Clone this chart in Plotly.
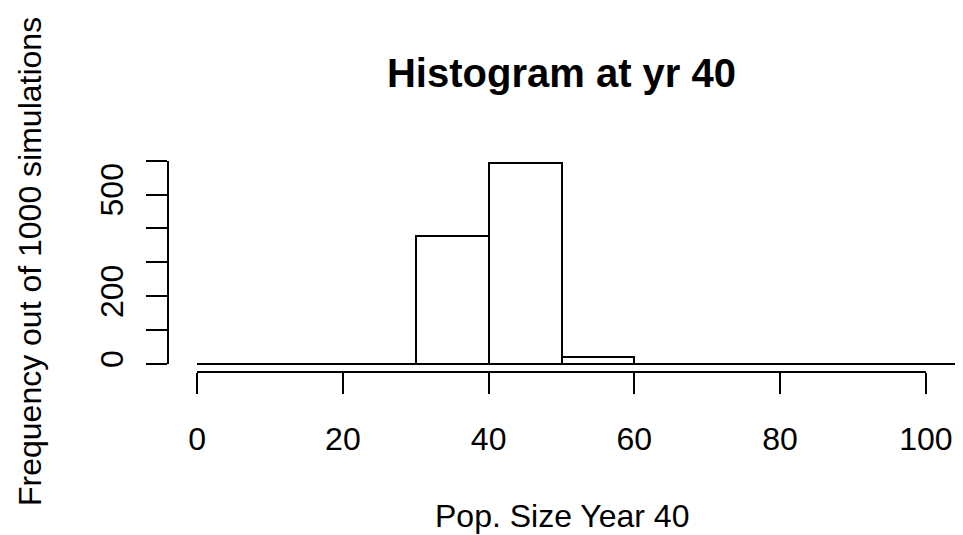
import plotly.graph_objects as go

# Histogram of population size at year 40 (1000 simulations)
bin_edges = [0, 10, 20, 30, 40, 50, 60, 70, 80, 90, 100]
counts = [0, 0, 0, 377, 593, 20, 0, 0, 0, 0]

x_tick_vals = [0, 20, 40, 60, 80, 100]
x_tick_text = ["0", "20", "40", "60", "80", "100"]
y_tick_vals = [0, 100, 200, 300, 400, 500, 600]
y_tick_text = ["0", "", "200", "", "", "500", ""]

title_text = "Histogram at yr 40"
x_title = "Pop. Size Year 40"
y_title = "Frequency out of 1000 simulations"

# Plot region limits: data range padded by 4% on each side
x_lo, x_hi = bin_edges[0], bin_edges[-1]
x_pad = 0.04 * (x_hi - x_lo)
x_range = [x_lo - x_pad, x_hi + x_pad]
y_pad = 0.04 * max(counts)
y_range = [0 - y_pad, max(counts) + y_pad]

centers = [(a + b) / 2 for a, b in zip(bin_edges[:-1], bin_edges[1:])]
widths = [b - a for a, b in zip(bin_edges[:-1], bin_edges[1:])]

W, H = 963, 535
M = dict(l=168, r=8, t=155, b=163)
pw = W - M["l"] - M["r"]
ph = H - M["t"] - M["b"]

FONT = "Liberation Sans, Arial, Helvetica, sans-serif"

fig = go.Figure()
fig.add_trace(go.Bar(
    x=centers, y=counts, width=widths,
    marker=dict(color="white", line=dict(color="black", width=2)),
    hoverinfo="skip", showlegend=False,
))
# invisible helpers so the drawn axes get their own subplots
fig.add_trace(go.Scatter(x=[x_tick_vals[0]], y=[0], xaxis="x2", yaxis="y",
                         mode="markers", marker=dict(opacity=0),
                         hoverinfo="skip", showlegend=False))
fig.add_trace(go.Scatter(x=[0], y=[y_tick_vals[0]], xaxis="x", yaxis="y2",
                         mode="markers", marker=dict(opacity=0),
                         hoverinfo="skip", showlegend=False))

x_dom = [(x_tick_vals[0] - x_range[0]) / (x_range[1] - x_range[0]),
         (x_tick_vals[-1] - x_range[0]) / (x_range[1] - x_range[0])]
y_dom = [(y_tick_vals[0] - y_range[0]) / (y_range[1] - y_range[0]),
         (y_tick_vals[-1] - y_range[0]) / (y_range[1] - y_range[0])]

axis_style = dict(
    showline=True, linecolor="black", linewidth=2,
    ticks="outside", ticklen=21, tickwidth=2, tickcolor="black",
    showgrid=False, zeroline=False, automargin=False,
    tickfont=dict(family=FONT, size=32, color="black"),
)

fig.update_layout(
    template="none",
    width=W, height=H, margin=dict(M, autoexpand=False),
    paper_bgcolor="white", plot_bgcolor="rgba(0,0,0,0)",
    bargap=0,
    xaxis=dict(range=x_range, domain=[0, 1], visible=False, automargin=False),
    yaxis=dict(range=y_range, domain=[0, 1], visible=False, automargin=False),
    xaxis2=dict(range=[x_tick_vals[0], x_tick_vals[-1]], domain=x_dom,
                anchor="free", position=0, tickmode="array",
                tickvals=x_tick_vals, ticktext=x_tick_text,
                ticklabelstandoff=18, **axis_style),
    yaxis2=dict(range=[y_tick_vals[0], y_tick_vals[-1]], domain=y_dom,
                anchor="free", position=0, tickmode="array",
                tickvals=y_tick_vals, ticktext=y_tick_text, tickangle=-90,
                ticklabelstandoff=10, **axis_style),
    title=dict(text="<b>" + title_text + "</b>", x=0.5, xref="paper",
               xanchor="center", y=1 - 73 / H, yref="container",
               yanchor="middle",
               font=dict(family=FONT, size=40, color="black")),
    shapes=[dict(type="line", xref="x", yref="y",
                 x0=bin_edges[0], x1=x_range[1], y0=0, y1=0,
                 line=dict(color="black", width=2))],
    annotations=[
        dict(text=x_title, xref="paper", yref="paper",
             x=0.5, y=(H - M["b"] - 516) / ph,
             xanchor="center", yanchor="middle", showarrow=False,
             font=dict(family=FONT, size=32, color="black")),
        dict(text=y_title, xref="paper", yref="paper", textangle=-90,
             x=(30 - M["l"]) / pw, y=(H - M["b"] - 262) / ph,
             xanchor="center", yanchor="middle", showarrow=False,
             font=dict(family=FONT, size=32, color="black")),
    ],
)

fig.write_html("out.html")
